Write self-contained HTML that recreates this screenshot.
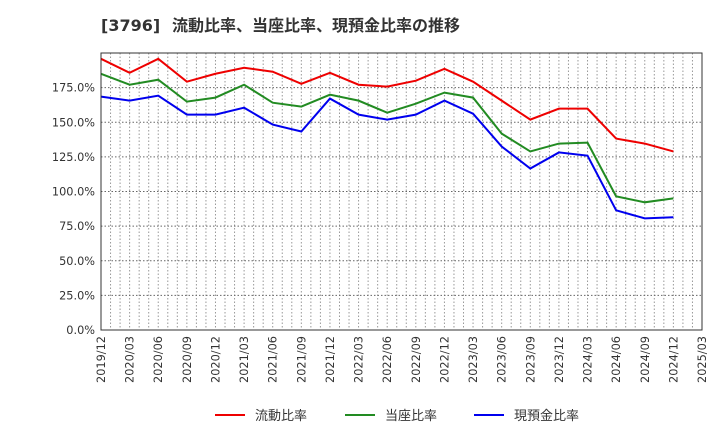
<!DOCTYPE html>
<html><head><meta charset="utf-8"><style>
body{margin:0;background:#fff;font-family:"DejaVu Sans","Noto Sans CJK JP",sans-serif}
</style></head><body>
<svg id="c" width="720" height="440" xmlns="http://www.w3.org/2000/svg" font-family="DejaVu Sans, Noto Sans CJK JP, sans-serif">
<text x="101" y="31" font-size="16" font-weight="bold" fill="#333">[3796]<tspan x="172">流動比率、当座比率、現預金比率の推移</tspan></text>
<g id="grid"></g><g id="series"></g><g id="axes"></g><g id="legend"></g>
</svg>
<script>
const categories=["2019/12","2020/03","2020/06","2020/09","2020/12","2021/03","2021/06","2021/09","2021/12","2022/03","2022/06","2022/09","2022/12","2023/03","2023/06","2023/09","2023/12","2024/03","2024/06","2024/09","2024/12","2025/03"];
const currentRatio=[195.8,185.7,195.8,179.3,185,189.3,186.5,177.8,185.7,177.1,175.7,180,188.6,179.3,165.6,151.9,159.8,159.8,138.2,134.6,128.9];
const quickRatio=[185,177.1,180.7,164.9,167.8,177.1,164.1,161.3,169.9,165.6,156.9,163.4,171.4,167.8,141.8,128.9,134.6,135.3,96.5,92.2,95];
const cashRatio=[168.5,165.6,169.2,155.5,155.5,160.5,148.3,143.3,167.1,155.5,151.9,155.5,165.6,156.2,132.5,116.6,128.2,125.9,86.4,80.6,81.4];
const yTicks=[0,25,50,75,100,125,150,175];
const yTickLabels=["0.0%","25.0%","50.0%","75.0%","100.0%","125.0%","150.0%","175.0%"];
const L=101,R=702,T=53,B=330,YMAX=200;
const x=i=>L+(R-L)*i/(categories.length-1);
const y=v=>B-(B-T)*v/YMAX;
const NS="http://www.w3.org/2000/svg";
function mk(tag,attrs,parent){const e=document.createElementNS(NS,tag);for(const k in attrs)e.setAttribute(k,attrs[k]);document.getElementById(parent).appendChild(e);return e;}
for(let m=1;m<(categories.length-1)*3;m++){const gx=L+(R-L)*m/((categories.length-1)*3);
const g=mk('line',{x1:gx,x2:gx,y1:T,y2:B,stroke:'#999','stroke-dasharray':'1.5,2','stroke-width':1},'grid');

}
yTicks.forEach((v,i)=>{if(v>0){const g=mk('line',{x1:L,x2:R,y1:y(v),y2:y(v),stroke:'#666','stroke-dasharray':'1.5,2','stroke-width':1},'grid');

}
const t=mk('text',{x:L-6,y:y(v)+4,'text-anchor':'end','font-size':11.3,fill:'#333'},'axes');t.textContent=yTickLabels[i];

});
categories.forEach((c,i)=>{const t=mk('text',{transform:`translate(${x(i)+4},${B+6}) rotate(-90)`,'text-anchor':'end','font-size':11.3,fill:'#333'},'axes');t.textContent=c;

});
const fr=mk('rect',{x:L,y:T,width:R-L,height:B-T,fill:'none',stroke:'#333','stroke-width':1},'axes');


const series=[[currentRatio,'#ee0000','current-ratio-line','流動比率'],[quickRatio,'#228b22','quick-ratio-line','当座比率'],[cashRatio,'#0000ee','cash-ratio-line','現預金比率']];
series.forEach(([d,col,name])=>{const p=mk('polyline',{points:d.map((v,i)=>x(i)+','+y(v)).join(' '),fill:'none',stroke:col,'stroke-width':2},'series');

});
const lx=[215,345,474];
series.forEach(([d,col,name,label],i)=>{const l=mk('line',{x1:lx[i],x2:lx[i]+30,y1:415,y2:415,stroke:col,'stroke-width':2},'legend');


const t=mk('text',{x:lx[i]+40,y:420,'font-size':13,fill:'#333'},'legend');t.textContent=label;

});
</script>
</body></html>
